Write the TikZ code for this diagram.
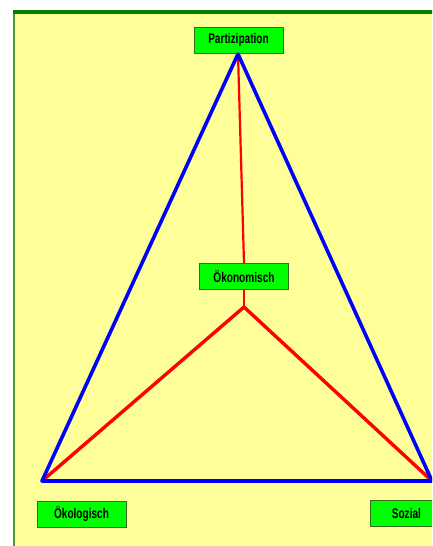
\documentclass[tikz,border=0pt]{standalone}
\usepackage{fontspec}
\setmainfont{Liberation Sans}[FakeStretch=0.72]
\definecolor{bgyellow}{HTML}{FFFF99}
\definecolor{boxgreen}{HTML}{00FF00}
\definecolor{darkgreen}{HTML}{008000}
\definecolor{edgegreen}{HTML}{4C9A2A}
\tikzset{
  label box/.style={draw=edgegreen!70!black, line width=0.8pt, fill=boxgreen, inner sep=0pt,
    minimum width=89pt, minimum height=26pt, font=\fontsize{14}{16}\selectfont\bfseries, text=black},
  blueline/.style={draw=blue, line width=3.6pt, line join=round},
  redthick/.style={draw=red, line width=3.4pt, line join=round},
  redthin/.style={draw=red, line width=2.2pt}
}
\begin{document}
\begin{tikzpicture}[x=1pt,y=-1pt]
\useasboundingbox (0,0) rectangle (432,546);
\clip (0,0) rectangle (432,546);
\fill[white] (0,0) rectangle (432,546);
\fill[bgyellow] (13,10) rectangle (440,550);
\fill[edgegreen] (13,10) rectangle (15,550);
\fill[darkgreen] (13,10) rectangle (440,14);
% nodes
\node[label box] (part) at (238.5,40) {Partizipation};
\node[label box] (oeko) at (244,276.5) {Ökonomisch};
\node[label box] (oekol) at (81.5,514) {Ökologisch};
\node[label box, minimum width=72pt, anchor=west] (sozial) at (370,513) {Sozial};
\coordinate (A) at (238,54);
\coordinate (B) at (42,481);
\coordinate (C) at (432,481);
\coordinate (I) at (244,307);
% red inner lines
\draw[redthin] (A) -- (oeko.north);
\draw[redthin] (oeko.south) -- (I);
\draw[redthick] (B) -- (I) -- (C);
% blue triangle
\draw[blueline] (A) -- (B) -- (C) -- cycle;
\end{tikzpicture}
\end{document}
